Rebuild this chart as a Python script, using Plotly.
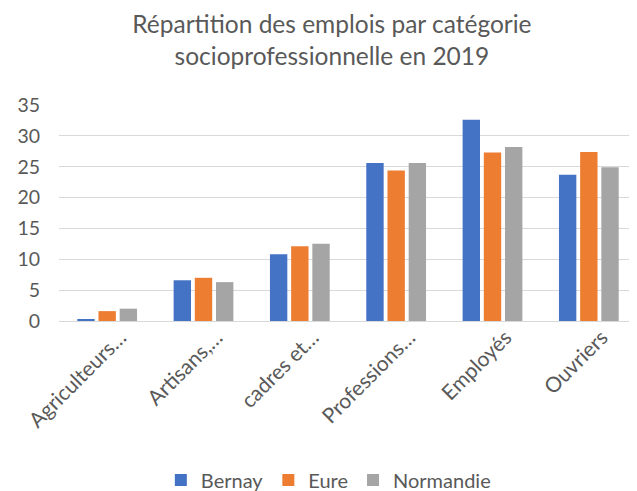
import plotly.graph_objects as go

categories = ["Agriculteurs…", "Artisans,…", "cadres et…", "Professions…", "Employés", "Ouvriers"]
bernay = [0.25, 6.6, 10.8, 25.6, 32.6, 23.7]
eure = [1.6, 7.0, 12.1, 24.4, 27.3, 27.4]
normandie = [2.0, 6.3, 12.5, 25.6, 28.2, 24.9]
series_names = ["Bernay", "Eure", "Normandie"]
colors = ["#4472C4", "#ED7D31", "#A5A5A5"]
y_ticks = [0, 5, 10, 15, 20, 25, 30, 35]

FONT = "Lato, 'Open Sans', sans-serif"
TXT = "#595959"

fig = go.Figure()
for name, vals, col in zip(series_names, [bernay, eure, normandie], colors):
    fig.add_trace(go.Bar(x=categories, y=vals, name=name,
                         marker=dict(color=col, line=dict(width=0))))

# page body has an 8px margin, so the figure is 8px smaller than the window
fig.update_layout(
    width=629, height=483,
    margin=dict(l=51, r=0, t=97, b=170, autoexpand=False),
    paper_bgcolor="white", plot_bgcolor="white",
    barmode="group", bargap=0.34, bargroupgap=0.18,
    font=dict(family=FONT, color=TXT),
    title=dict(text="Répartition des emplois par catégorie<br>socioprofessionnelle en 2019",
               x=0.515, xanchor="center", yref="container", y=0.948, yanchor="middle",
               font=dict(size=24.5, color=TXT, family=FONT)),
    showlegend=True,
    legend=dict(orientation="h", x=0.466, xanchor="center", yref="paper",
                y=-0.736, yanchor="middle", font=dict(size=20, color=TXT),
                itemsizing="constant", traceorder="normal"),
    xaxis=dict(tickangle=-45, tickfont=dict(size=21, color=TXT),
               showline=True, linecolor="#D9D9D9", linewidth=1, automargin=False,
               ticks="", showgrid=False, range=[-0.5, 5.5],
               ticklabelshift=13, ticklabelstandoff=-5),
    yaxis=dict(range=[0, 35], tickvals=y_ticks, tickfont=dict(size=19.5, color=TXT),
               showgrid=True, gridcolor="#D9D9D9", gridwidth=1, automargin=False,
               zeroline=False, showline=False, ticks="",
               ticklabelstandoff=18),
)

fig.write_html("out.html")
